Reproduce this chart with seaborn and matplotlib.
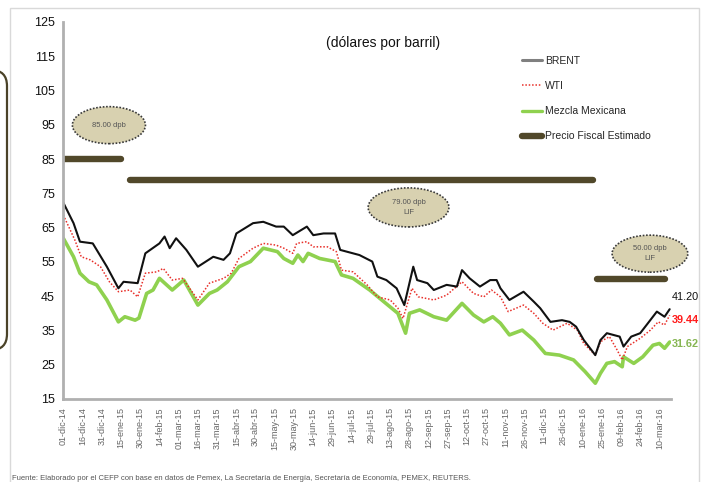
import matplotlib
matplotlib.use("Agg")
import matplotlib.pyplot as plt
import matplotlib.dates as mdates
from matplotlib import font_manager
from matplotlib.patches import Ellipse, FancyBboxPatch, Rectangle
from matplotlib.lines import Line2D
from matplotlib.transforms import IdentityTransform
import pandas as pd
import seaborn as sns

# ── Data ─────────────────────────────────────────────────────────────────────
FECHA_INICIO = "2014-12-01"

brent_dias = [0, 8, 13, 23, 34, 43, 47, 58, 64, 75, 79, 83, 88, 96, 105, 117,
              125, 130, 135, 148, 156, 166, 172, 179, 190, 195, 203, 212, 216,
              221, 231, 241, 245, 252, 260, 266, 273, 276, 284, 289, 299, 307,
              311, 317, 325, 333, 338, 341, 348, 359, 367, 372, 380, 389, 395,
              400, 406, 415, 419, 424, 429, 434, 437, 443, 450, 456, 463, 469, 473]
brent = [72.3, 66.3, 60.9, 60.4, 53.6, 47.3, 49.2, 48.8, 57.5, 60.4, 62.4, 59.0,
         61.9, 58.5, 53.6, 56.5, 55.6, 57.5, 63.3, 66.3, 66.7, 65.3, 65.3, 62.8,
         65.3, 62.8, 63.3, 63.3, 58.5, 58.0, 57.0, 55.1, 50.7, 49.7, 47.3, 42.4,
         53.6, 49.7, 48.8, 46.8, 48.3, 47.8, 52.6, 50.2, 47.8, 49.7, 49.7, 47.3,
         43.9, 46.3, 43.4, 41.5, 37.5, 38.0, 37.5, 36.1, 32.2, 27.8, 32.2, 34.2,
         33.7, 33.2, 30.3, 33.2, 34.2, 37.1, 40.5, 39.0, 41.20]

wti_dias = [0, 9, 14, 21, 29, 36, 43, 52, 58, 64, 73, 78, 85, 93, 105, 114, 125,
            131, 137, 148, 156, 166, 172, 179, 182, 190, 195, 206, 213, 217, 226,
            237, 245, 255, 261, 265, 272, 277, 289, 299, 311, 320, 328, 334, 341,
            347, 359, 367, 374, 382, 393, 401, 406, 415, 419, 426, 432, 436, 440,
            450, 458, 464, 469, 473]
wti = [68.7, 61.4, 56.5, 55.6, 53.6, 49.2, 46.3, 46.8, 44.8, 51.7, 52.1, 53.1,
       49.7, 50.2, 43.9, 48.8, 50.2, 51.7, 56.0, 59.0, 60.4, 59.9, 59.0, 57.5,
       60.4, 60.9, 59.4, 59.4, 58.0, 52.6, 52.1, 48.3, 44.8, 43.9, 41.5, 38.5,
       47.3, 44.8, 43.9, 45.3, 49.2, 45.8, 44.8, 46.8, 44.8, 40.5, 42.4, 40.0,
       37.1, 35.1, 37.1, 35.1, 31.2, 27.8, 31.7, 33.2, 29.3, 26.4, 30.3, 32.7,
       35.1, 37.5, 36.6, 39.44]

mezcla_dias = [0, 8, 13, 20, 26, 34, 43, 48, 56, 59, 65, 70, 75, 85, 94, 105,
               114, 120, 128, 137, 146, 156, 167, 172, 179, 183, 187, 191, 200,
               212, 217, 226, 239, 250, 261, 267, 270, 278, 289, 299, 311, 320,
               328, 335, 341, 348, 358, 367, 376, 387, 398, 407, 415, 419, 424,
               430, 436, 437, 445, 452, 460, 465, 469, 473]
mezcla = [61.9, 56.5, 51.7, 49.2, 48.3, 43.9, 37.5, 39.0, 38.0, 38.6, 45.8, 46.8,
          50.2, 46.8, 49.7, 42.4, 45.8, 46.8, 49.2, 53.6, 55.1, 59.0, 58.0, 56.0,
          54.6, 57.0, 55.1, 57.5, 56.0, 55.1, 51.2, 50.2, 46.8, 43.4, 40.0, 34.2,
          40.0, 41.0, 39.0, 38.0, 42.9, 39.5, 37.5, 39.0, 37.1, 33.7, 35.1, 32.2,
          28.3, 27.8, 26.4, 23.0, 19.6, 22.5, 25.4, 25.9, 24.4, 27.3, 25.4, 27.3,
          30.7, 31.2, 29.8, 31.62]

# Precio fiscal estimado: tramos (día inicio, día fin, precio)
fiscal_inicio = [0, 52, 416]
fiscal_fin = [45, 413, 469]
fiscal_precio = [85.0, 79.0, 50.0]
fiscal_etiquetas = ["85.00 dpb", "79.00 dpb\nLIF", "50.00 dpb\nLIF"]

tick_labels = ["01-dic-14", "16-dic-14", "31-dic-14", "15-ene-15", "30-ene-15",
               "14-feb-15", "01-mar-15", "16-mar-15", "31-mar-15", "15-abr-15",
               "30-abr-15", "15-may-15", "30-may-15", "14-jun-15", "29-jun-15",
               "14-jul-15", "29-jul-15", "13-ago-15", "28-ago-15", "12-sep-15",
               "27-sep-15", "12-oct-15", "27-oct-15", "11-nov-15", "26-nov-15",
               "11-dic-15", "26-dic-15", "10-ene-16", "25-ene-16", "09-feb-16",
               "24-feb-16", "10-mar-16"]

# ── Style ────────────────────────────────────────────────────────────────────
sns.set_theme(style="white")
installed = {f.name for f in font_manager.fontManager.ttflist}
FAM = [f for f in ["Liberation Sans Narrow", "Liberation Sans", "DejaVu Sans"]
       if f in installed]
plt.rcParams["font.family"] = FAM

C_BRENT = "#111111"
C_WTI = "#e8302a"
C_MEZCLA = "#8fd14f"
C_FISCAL = "#51482a"
C_ELIPSE = "#d8d1b0"

base = pd.Timestamp(FECHA_INICIO)
to_date = lambda d: base + pd.to_timedelta(d, unit="D")
to_num = lambda d: mdates.date2num(base) + d

df_brent = pd.DataFrame({"fecha": to_date(brent_dias), "precio": brent})
df_wti = pd.DataFrame({"fecha": to_date(wti_dias), "precio": wti})
df_mezcla = pd.DataFrame({"fecha": to_date(mezcla_dias), "precio": mezcla})

fig = plt.figure(figsize=(7.04, 4.82), dpi=100)
ax = fig.add_axes([0.0899, 0.1722, 0.8628, 0.7822])

# outer frame and the cut-off shape on the left
fig.add_artist(Rectangle((10, -20), 689, 494, transform=IdentityTransform(),
                         fill=False, edgecolor="#d9d9d9", lw=1.0))
fig.add_artist(FancyBboxPatch((-60, 132), 67, 280, transform=IdentityTransform(),
                              boxstyle="round,pad=0,rounding_size=16",
                              fill=False, edgecolor="#4a4228", lw=1.6))

# ── Series ───────────────────────────────────────────────────────────────────
sns.lineplot(data=df_mezcla, x="fecha", y="precio", ax=ax, color=C_MEZCLA,
             lw=2.6, estimator=None, sort=False)
sns.lineplot(data=df_wti, x="fecha", y="precio", ax=ax, color=C_WTI,
             lw=1.1, ls=(0, (1, 1.2)), estimator=None, sort=False)
sns.lineplot(data=df_brent, x="fecha", y="precio", ax=ax, color=C_BRENT,
             lw=1.5, estimator=None, sort=False)

for ini, fin, p in zip(fiscal_inicio, fiscal_fin, fiscal_precio):
    tramo = pd.DataFrame({"fecha": to_date([ini, fin]), "precio": [p, p]})
    sns.lineplot(data=tramo, x="fecha", y="precio", ax=ax, color=C_FISCAL,
                 lw=4.6, solid_capstyle="round", estimator=None)

# labelled ellipses above each fiscal price
elipses = [(35.6, 94.9, 57, 10.8), (269.3, 70.9, 63, 11.4), (457.6, 57.4, 59, 10.8)]
for (cx, cy, w, h), txt in zip(elipses, fiscal_etiquetas):
    ax.add_patch(Ellipse((to_num(cx), cy), w, h,
                         facecolor=C_ELIPSE, edgecolor="#3a3a3a", lw=1.2,
                         ls=(0, (1, 1)), clip_on=False, zorder=5))
    ax.text(to_num(cx), cy, txt, ha="center", va="center", fontsize=5.5,
            color="#555555", linespacing=1.6, zorder=6, clip_on=False)

# end-of-series values
ax.text(to_num(474.5), 44.8, f"{brent[-1]:.2f}", color="#111111", fontsize=7.8,
        ha="left", va="center", clip_on=False)
ax.text(to_num(474.5), 38.0, f"{wti[-1]:.2f}", color="#ff1a1a", fontsize=7.8,
        fontweight="bold", ha="left", va="center", clip_on=False)
ax.text(to_num(474.5), 31.0, f"{mezcla[-1]:.2f}", color="#86b552", fontsize=7.8,
        fontweight="bold", ha="left", va="center", clip_on=False)

# ── Axes ─────────────────────────────────────────────────────────────────────
ax.set_xlim(to_date(0), to_date(473.8))
ax.set_ylim(15, 125)
ax.set_yticks(range(15, 126, 10))
ax.set_yticklabels([str(v) for v in range(15, 126, 10)], fontsize=9, color="#111111")
ax.set_xticks(to_date([15 * i for i in range(len(tick_labels))]))
ax.set_xticklabels(tick_labels, rotation=90, fontsize=6.5, color="#666666")
ax.tick_params(axis="both", length=0, pad=6)
ax.set_xlabel("")
ax.set_ylabel("")
for side in ("top", "right"):
    ax.spines[side].set_visible(False)
for side in ("left", "bottom"):
    ax.spines[side].set_color("#b0b0b0")
    ax.spines[side].set_linewidth(2.0)

fig.text(383 / 704, 1 - 43 / 482, "(dólares por barril)", ha="center",
         va="center", fontsize=10, color="#111111")

handles = [
    Line2D([], [], color="#808080", lw=2.2),
    Line2D([], [], color=C_WTI, lw=1.1, ls=(0, (1, 1.2))),
    Line2D([], [], color=C_MEZCLA, lw=2.4),
    Line2D([], [], color=C_FISCAL, lw=4.6, solid_capstyle="round"),
]
fig.legend(handles, ["BRENT", "WTI", "Mezcla Mexicana", "Precio Fiscal Estimado"],
           loc="upper left", bbox_to_anchor=(522 / 704, 1 - 56 / 482),
           frameon=False, fontsize=7.5, handlelength=1.9, handletextpad=0.3,
           labelspacing=1.45, borderpad=0, borderaxespad=0)

fig.text(12 / 704, 1 - 479 / 482,
         "Fuente: Elaborado por el CEFP con base en datos de Pemex, La Secretaría de "
         "Energía, Secretaría de Economía, PEMEX, REUTERS.",
         ha="left", va="center", fontsize=5.5, color="#555555")

fig.savefig("out.png", dpi=100)
